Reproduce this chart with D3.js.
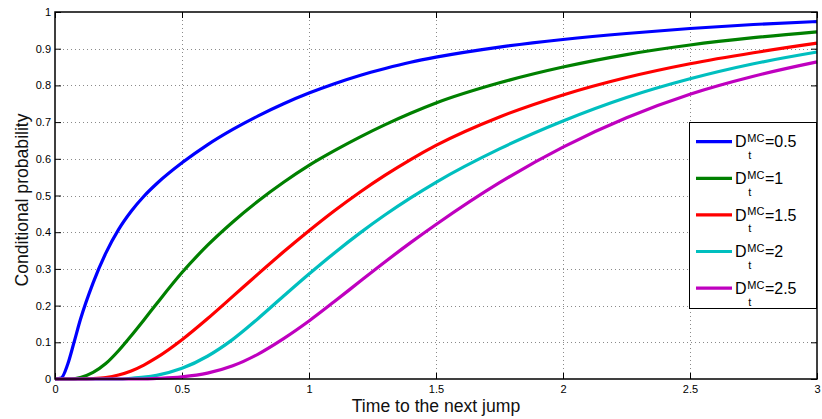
<!DOCTYPE html>
<html>
<head>
<meta charset="utf-8">
<script src="https://cdn.jsdelivr.net/npm/d3@7/dist/d3.min.js"></script>
<style>
  html, body { margin: 0; padding: 0; background: #fff; }
  svg { display: block; font-family: "Liberation Sans", Arial, Helvetica, sans-serif; }
</style>
</head>
<body>
<svg id="chart" width="822" height="419"></svg>
<script>
// Time to the next jump (shared sampling grid for every curve)
const time = [0, 0.025, 0.05, 0.075, 0.1, 0.15, 0.2, 0.25, 0.3, 0.35, 0.4, 0.5, 0.6, 0.7, 0.8, 0.9,
              1.0, 1.1, 1.2, 1.3, 1.4, 1.5, 1.75, 2.0, 2.25, 2.5, 2.75, 3.0];

// Conditional probability for each D_t^MC level
const d05 = [0, 0.003, 0.04, 0.1, 0.162, 0.262, 0.343, 0.407, 0.457, 0.498, 0.532, 0.589, 0.638, 0.68, 0.717, 0.75,
             0.779, 0.8045, 0.827, 0.846, 0.863, 0.877, 0.9045, 0.925, 0.9415, 0.955, 0.966, 0.974];
const d10 = [0, 0, 0, 0.0005, 0.004, 0.018, 0.042, 0.077, 0.118, 0.161, 0.205, 0.29, 0.364, 0.428, 0.485, 0.536,
             0.582, 0.622, 0.659, 0.693, 0.724, 0.752, 0.807, 0.85, 0.884, 0.91, 0.93, 0.946];
const d15 = [0, 0, 0, 0, 0, 0.001, 0.004, 0.011, 0.022, 0.038, 0.058, 0.107, 0.164, 0.225, 0.2865, 0.3465,
             0.404, 0.4585, 0.509, 0.5555, 0.598, 0.6365, 0.714, 0.774, 0.8215, 0.859, 0.889, 0.915];
const d20 = [0, 0, 0, 0, 0, 0, 0, 0, 0.002, 0.005, 0.01, 0.029, 0.062, 0.108, 0.165, 0.226,
             0.286, 0.3435, 0.3975, 0.4475, 0.4935, 0.536, 0.627, 0.703, 0.767, 0.818, 0.859, 0.891];
const d25 = [0, 0, 0, 0, 0, 0, 0, 0, 0, 0, 0.0015, 0.006, 0.016, 0.036, 0.068, 0.11,
             0.158, 0.211, 0.2655, 0.3195, 0.3715, 0.421, 0.535, 0.632, 0.712, 0.776, 0.825, 0.864];

const seriesValues = [d05, d10, d15, d20, d25];
const seriesLevels = ["0.5", "1", "1.5", "2", "2.5"];
const seriesColors = ["#0000ff", "#008000", "#ff0000", "#00bfbf", "#bf00bf"];

const xTicks = [0, 0.5, 1, 1.5, 2, 2.5, 3];
const xTickLabels = ["0", "0.5", "1", "1.5", "2", "2.5", "3"];
const yTicks = [0, 0.1, 0.2, 0.3, 0.4, 0.5, 0.6, 0.7, 0.8, 0.9, 1];
const yTickLabels = ["0", "0.1", "0.2", "0.3", "0.4", "0.5", "0.6", "0.7", "0.8", "0.9", "1"];

const xTitle = "Time to the next jump";
const yTitle = "Conditional probability";

// Plot frame
const plotLeft = 55, plotRight = 817, plotTop = 12, plotBottom = 379;
const x = d3.scaleLinear().domain([0, 3]).range([plotLeft, plotRight]);
const y = d3.scaleLinear().domain([0, 1]).range([plotBottom, plotTop]);

const svg = d3.select("#chart");
svg.append("rect").attr("width", 822).attr("height", 419).attr("fill", "#fff");

// Dotted grid
const grid = svg.append("g").attr("stroke", "#8a8a8a").attr("stroke-width", 1)
  .attr("stroke-dasharray", "1,3").attr("fill", "none");
grid.selectAll("line.gx").data(xTicks.slice(1, -1)).join("line").attr("class", "gx")
  .attr("x1", d => Math.round(x(d)) + 0.5).attr("x2", d => Math.round(x(d)) + 0.5)
  .attr("y1", plotTop).attr("y2", plotBottom);
grid.selectAll("line.gy").data(yTicks.slice(1, -1)).join("line").attr("class", "gy")
  .attr("y1", d => Math.round(y(d)) + 0.5).attr("y2", d => Math.round(y(d)) + 0.5)
  .attr("x1", plotLeft).attr("x2", plotRight);

// Axes with inward ticks on all four sides
const tickLen = 6;
const fmtX = d => xTickLabels[xTicks.indexOf(d)];
const fmtY = d => yTickLabels[yTicks.indexOf(d)];

function styleAxis(g) {
  g.select(".domain").remove();
  g.selectAll(".tick line").attr("stroke", "#000").attr("stroke-width", 1);
  g.selectAll(".tick text").attr("fill", "#000").attr("font-size", 11)
    .attr("font-family", "'Liberation Sans', Arial, Helvetica, sans-serif");
}

svg.append("g").attr("transform", `translate(0,${plotBottom})`)
  .call(d3.axisBottom(x).tickValues(xTicks).tickFormat(fmtX).tickSize(-tickLen).tickPadding(6))
  .call(styleAxis);
svg.append("g").attr("transform", `translate(0,${plotTop})`)
  .call(d3.axisTop(x).tickValues(xTicks).tickFormat("").tickSize(-tickLen))
  .call(styleAxis);
svg.append("g").attr("transform", `translate(${plotLeft},0)`)
  .call(d3.axisLeft(y).tickValues(yTicks).tickFormat(fmtY).tickSize(-tickLen).tickPadding(4))
  .call(styleAxis);
svg.append("g").attr("transform", `translate(${plotRight},0)`)
  .call(d3.axisRight(y).tickValues(yTicks).tickFormat("").tickSize(-tickLen))
  .call(styleAxis);

// Curves
const line = d3.line()
  .x((d, i) => x(time[i]))
  .y(d => y(d))
  .curve(d3.curveMonotoneX);

svg.append("g").selectAll("path").data(seriesValues).join("path")
  .attr("d", d => line(d))
  .attr("fill", "none")
  .attr("stroke", (d, i) => seriesColors[i])
  .attr("stroke-width", 3.2)
  .attr("stroke-linejoin", "round")
  .attr("stroke-linecap", "butt");

// Box
svg.append("rect")
  .attr("x", plotLeft).attr("y", plotTop)
  .attr("width", plotRight - plotLeft).attr("height", plotBottom - plotTop)
  .attr("fill", "none").attr("stroke", "#000").attr("stroke-width", 1.5);

// Axis titles
svg.append("text")
  .attr("x", (plotLeft + plotRight) / 2).attr("y", 411.5)
  .attr("text-anchor", "middle").attr("font-size", 17.6).attr("fill", "#111")
  .text(xTitle);
svg.append("text")
  .attr("transform", "translate(27.5,200) rotate(-90)")
  .attr("text-anchor", "middle").attr("font-size", 17.6).attr("fill", "#111")
  .text(yTitle);

// Legend
const legX = 689.5, legY = 122.5, legW = 127, legH = 186, legStep = 36.6, legFirst = 141.7;
const legend = svg.append("g");
legend.append("rect")
  .attr("x", legX).attr("y", legY).attr("width", legW).attr("height", legH)
  .attr("fill", "#fff").attr("stroke", "#000").attr("stroke-width", 1);

seriesLevels.forEach((lvl, i) => {
  const cy = legFirst + i * legStep;
  const g = legend.append("g");
  g.append("line")
    .attr("x1", 696).attr("x2", 732).attr("y1", cy).attr("y2", cy)
    .attr("stroke", seriesColors[i]).attr("stroke-width", 3.2);
  g.append("text").attr("x", 735).attr("y", cy + 5.7)
    .attr("font-size", 16).attr("fill", "#000").text("D");
  const sup = g.append("text").attr("x", 747.3).attr("y", cy + 0.5)
    .attr("font-size", 11).attr("fill", "#000").text("MC");
  g.append("text").attr("x", 748.3).attr("y", cy + 17.5)
    .attr("font-size", 11).attr("fill", "#000").text("t");
  const supEnd = 747.3 + sup.node().getComputedTextLength();
  g.append("text").attr("x", supEnd + 0.5).attr("y", cy + 5.7)
    .attr("font-size", 16).attr("fill", "#000").text("=" + lvl);
});
</script>
</body>
</html>
